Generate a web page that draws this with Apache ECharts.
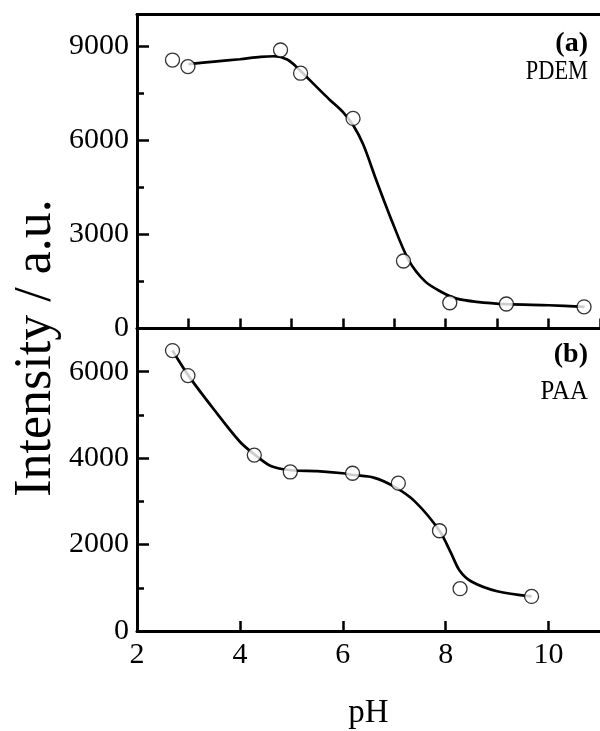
<!DOCTYPE html>
<html>
<head>
<meta charset="utf-8">
<script src="https://cdn.jsdelivr.net/npm/echarts@6/dist/echarts.min.js"></script>
<style>
  html, body { margin: 0; padding: 0; background: #fff; }
  #chart { width: 600px; height: 731px; }
</style>
</head>
<body>
<div id="chart"></div>
<script>
// (a) PDEM - measured points
var pdemPH  = [2.69, 2.99, 4.79, 5.18, 6.20, 7.18, 8.08, 9.18, 10.69];
var pdemInt = [8550, 8340, 8870, 8130, 6690, 2150, 820, 780, 690];
// (a) PDEM - fitted curve
var pdemFitPH  = [3.0, 3.5, 4.0, 4.4, 4.67, 4.92, 5.08, 5.2, 5.5, 5.75, 6.0, 6.2, 6.4, 6.65, 6.97, 7.28, 7.6, 7.9, 8.2, 8.6, 9.2, 10.0, 10.7];
var pdemFitInt = [8420, 8500, 8575, 8650, 8670, 8570, 8360, 8170, 7680, 7280, 6900, 6480, 5850, 4730, 3360, 2180, 1500, 1180, 960, 850, 775, 740, 690];

// (b) PAA - measured points
var paaPH  = [2.69, 2.99, 4.28, 4.98, 6.19, 7.08, 7.88, 8.28, 9.67];
var paaInt = [6490, 5910, 4070, 3680, 3650, 3420, 2320, 980, 800];
// (b) PAA - fitted curve
var paaFitPH  = [2.69, 3.0, 3.5, 4.0, 4.3, 4.6, 5.0, 5.5, 6.0, 6.2, 6.6, 7.0, 7.4, 7.88, 8.1, 8.27, 8.5, 9.0, 9.67];
var paaFitInt = [6490, 5910, 5120, 4380, 4070, 3820, 3720, 3700, 3650, 3610, 3550, 3340, 3000, 2320, 1815, 1400, 1145, 920, 800];

function pairs(xs, ys) {
    var out = [];
    for (var i = 0; i < xs.length; i++) out.push([xs[i], ys[i]]);
    return out;
}

var FONT = '"Liberation Serif", "Times New Roman", serif';
var lineW = 3;

function valueAxisY(grid, max, step, labels, tickLen) {
    return {
        type: 'value', gridIndex: grid, min: 0, max: max, interval: step, position: 'left',
        axisLine: { show: true, onZero: false, lineStyle: { color: '#000', width: lineW } },
        axisTick: { show: true, inside: true, length: tickLen, lineStyle: { color: '#000', width: 2.5 } },
        axisLabel: {
            show: labels, showMaxLabel: false, margin: 8,
            color: '#000', fontFamily: FONT, fontSize: 30,
            formatter: function (v) { return String(v); }
        },
        splitLine: { show: false }
    };
}

var chart = echarts.init(document.getElementById('chart'));
var option = {
    animation: false,
    backgroundColor: '#fff',
    grid: [
        { left: 137, top: 14.5, width: 470, height: 314 },
        { left: 137, top: 328.5, width: 470, height: 314.5 }
    ],
    xAxis: [
        {   // top panel bottom edge (shared line)
            type: 'value', gridIndex: 0, min: 2, max: 11, interval: 1, position: 'bottom',
            axisLine: { show: true, onZero: false, lineStyle: { color: '#000', width: lineW } },
            axisTick: { show: true, inside: true, length: 10, lineStyle: { color: '#000', width: 2.5 } },
            axisLabel: { show: false },
            splitLine: { show: false }
        },
        {   // top panel frame
            type: 'value', gridIndex: 0, min: 2, max: 11, interval: 1, position: 'top',
            axisLine: { show: true, onZero: false, lineStyle: { color: '#000', width: lineW } },
            axisTick: { show: false },
            axisLabel: { show: false },
            splitLine: { show: false }
        },
        {   // bottom panel x axis
            type: 'value', gridIndex: 1, min: 2, max: 11, interval: 2, position: 'bottom',
            name: 'pH', nameLocation: 'middle', nameGap: 66,
            nameTextStyle: { color: '#000', fontFamily: FONT, fontSize: 33 },
            axisLine: { show: true, onZero: false, lineStyle: { color: '#000', width: lineW } },
            axisTick: { show: true, inside: true, length: 10, lineStyle: { color: '#000', width: 2.5 } },
            axisLabel: {
                show: true, showMaxLabel: false, margin: 9,
                color: '#000', fontFamily: FONT, fontSize: 30
            },
            splitLine: { show: false }
        }
    ],
    yAxis: [
        valueAxisY(0, 10000, 3000, true, 12),
        valueAxisY(0, 10000, 1500, false, 7),
        valueAxisY(1, 7000, 2000, true, 12),
        valueAxisY(1, 7000, 1000, false, 7)
    ],
    graphic: [
        {
            type: 'text', x: 36, y: 348, rotation: Math.PI / 2,
            style: {
                text: 'Intensity / a.u.', font: '52px ' + FONT, fill: '#000',
                textAlign: 'center', textVerticalAlign: 'middle'
            }
        },
        {
            type: 'text', x: 588, y: 44,
            style: { text: '(a)', font: 'bold 28px ' + FONT, fill: '#000', textAlign: 'right', textVerticalAlign: 'middle' }
        },
        {
            type: 'text', x: 588, y: 72, scaleX: 0.8,
            style: { text: 'PDEM', font: '28px ' + FONT, fill: '#000', textAlign: 'right', textVerticalAlign: 'middle' }
        },
        {
            type: 'text', x: 588, y: 355,
            style: { text: '(b)', font: 'bold 28px ' + FONT, fill: '#000', textAlign: 'right', textVerticalAlign: 'middle' }
        },
        {
            type: 'text', x: 588, y: 392, scaleX: 0.92,
            style: { text: 'PAA', font: '27px ' + FONT, fill: '#000', textAlign: 'right', textVerticalAlign: 'middle' }
        }
    ],
    series: [
        {
            type: 'line', xAxisIndex: 0, yAxisIndex: 0, data: pairs(pdemFitPH, pdemFitInt),
            smooth: 0.3, symbol: 'none',
            lineStyle: { color: '#000', width: 2.7 }, z: 2
        },
        {
            type: 'scatter', xAxisIndex: 0, yAxisIndex: 0, data: pairs(pdemPH, pdemInt),
            symbol: 'circle', symbolSize: 14,
            itemStyle: { color: '#fff', borderColor: '#000', borderWidth: 1.3 }, z: 3
        },
        {
            type: 'line', xAxisIndex: 2, yAxisIndex: 2, data: pairs(paaFitPH, paaFitInt),
            smooth: 0.3, symbol: 'none',
            lineStyle: { color: '#000', width: 2.7 }, z: 2
        },
        {
            type: 'scatter', xAxisIndex: 2, yAxisIndex: 2, data: pairs(paaPH, paaInt),
            symbol: 'circle', symbolSize: 14,
            itemStyle: { color: '#fff', borderColor: '#000', borderWidth: 1.3 }, z: 3
        }
    ]
};
chart.setOption(option);
</script>
</body>
</html>
